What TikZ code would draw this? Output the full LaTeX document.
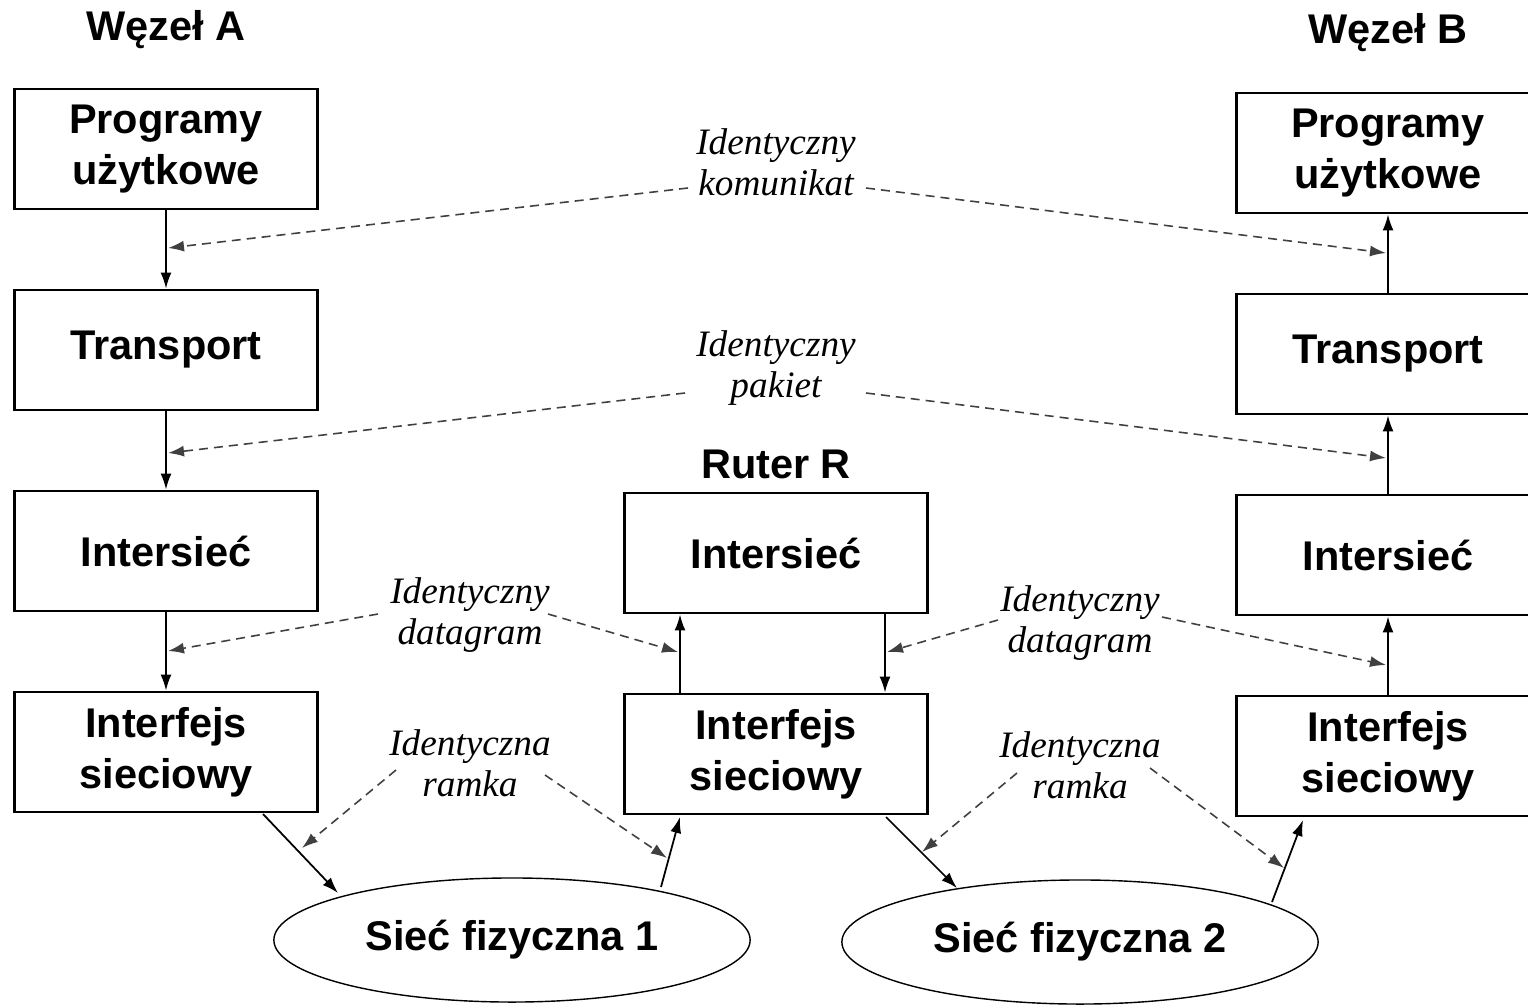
\documentclass[tikz,border=0pt]{standalone}
\usepackage{fontspec}
\setmainfont{Liberation Serif}
\setsansfont{Liberation Sans}
\usetikzlibrary{arrows.meta,shapes.geometric}

\tikzset{
  warstwa/.style={draw, thick, minimum width=3.03cm, minimum height=1.2cm, align=center,
    font=\sffamily\bfseries\fontsize{11.8}{14.5}\selectfont},
  tytul/.style={font=\sffamily\bfseries\fontsize{11.8}{14.5}\selectfont},
  etykieta/.style={align=center, font=\itshape\fontsize{10.6}{11.7}\selectfont},
  siec/.style={draw, ellipse, thin, minimum width=4.76cm, minimum height=1.24cm,
    font=\sffamily\bfseries\fontsize{11.8}{14.5}\selectfont},
  strz/.style={-{Latex[length=1.6mm,width=1.1mm]}, line width=0.5pt},
  przer/.style={-{Latex[length=1.6mm,width=1.1mm]}, line width=0.45pt, black!75,
    dash pattern=on 0.9mm off 0.6mm}
}

\begin{document}
\begin{tikzpicture}[x=0.01cm, y=-0.01cm]
			\useasboundingbox (0,0) rectangle (1528,1006);
			\clip (0,0) rectangle (1528,1006);
			% titles
			\node[tytul] (tA) at (166,30) {Węzeł A};
			\node[tytul] (tB) at (1388,33) {Węzeł B};
			\node[tytul] (tR) at (776,464) {Ruter R};
			% node A
			\node[warstwa] (A1) at (166,149) {Programy\\użytkowe};
			\node[warstwa] (A2) at (166,350) {Transport};
			\node[warstwa] (A3) at (166,551) {Intersieć};
			\node[warstwa] (A4) at (166,752) {Interfejs\\sieciowy};
			% router R
			\node[warstwa] (R1) at (776,553) {Intersieć};
			\node[warstwa] (R2) at (776,754) {Interfejs\\sieciowy};
			% node B
			\node[warstwa] (B1) at (1388,153) {Programy\\użytkowe};
			\node[warstwa] (B2) at (1388,354) {Transport};
			\node[warstwa] (B3) at (1388,555) {Intersieć};
			\node[warstwa] (B4) at (1388,756) {Interfejs\\sieciowy};
			% networks
			\node[siec] (N1) at (512,940) {Sieć fizyczna 1};
			\node[siec] (N2) at (1080,942) {Sieć fizyczna 2};
			% vertical arrows
			\draw[strz] (A1) -- (A2);
			\draw[strz] (A2) -- (A3);
			\draw[strz] (A3) -- (A4);
			\draw[strz] (B4) -- (B3);
			\draw[strz] (B3) -- (B2);
			\draw[strz] (B2) -- (B1);
			\coordinate (rUp) at (680,0);
			\coordinate (rDn) at (885,0);
			\draw[strz] (R2.north -| rUp) -- (R1.south -| rUp);
			\draw[strz] (R1.south -| rDn) -- (R2.north -| rDn);
			% links to the networks
			\coordinate (a4) at (263,814);
			\coordinate (n1a) at (338,893);
			\coordinate (n1b) at (661,887);
			\coordinate (r2a) at (680,817);
			\coordinate (r2b) at (886,817);
			\coordinate (n2a) at (957,888);
			\coordinate (n2b) at (1272,902);
			\coordinate (b4) at (1303,820);
			\draw[strz] (a4) -- (n1a);
			\draw[strz] (n1b) -- (r2a);
			\draw[strz] (r2b) -- (n2a);
			\draw[strz] (n2b) -- (b4);
			% labels
			\node[etykieta] (lKom) at (776,162) {Identyczny\\komunikat};
			\node[etykieta] (lPak) at (776,368) {Identyczny\\pakiet};
			\node[etykieta] (lDat1) at (470,615) {Identyczny\\datagram};
			\node[etykieta] (lDat2) at (1080,623) {Identyczny\\datagram};
			\node[etykieta] (lRam1) at (470,763) {Identyczna\\ramka};
			\node[etykieta] (lRam2) at (1080,765) {Identyczna\\ramka};
			% dashed arrows
			\coordinate (k1) at (688,188);  \coordinate (kA) at (168,248);
			\coordinate (k2) at (866,188);  \coordinate (kB) at (1386,253);
			\coordinate (p1) at (685,393);  \coordinate (pA) at (168,453);
			\coordinate (p2) at (866,393);  \coordinate (pB) at (1386,458);
			\coordinate (d1) at (378,614);  \coordinate (dA) at (168,651);
			\coordinate (d2) at (548,614);  \coordinate (dR1) at (678,652);
			\coordinate (d3) at (998,620);  \coordinate (dR2) at (887,652);
			\coordinate (d4) at (1162,617); \coordinate (dB) at (1386,665);
			\coordinate (m1) at (396,770);  \coordinate (mA) at (302,848);
			\coordinate (m2) at (545,775);  \coordinate (mR1) at (667,858);
			\coordinate (m3) at (1017,773); \coordinate (mR2) at (922,852);
			\coordinate (m4) at (1150,768); \coordinate (mB) at (1284,868);
			\foreach \s/\t in {k1/kA, k2/kB, p1/pA, p2/pB, d1/dA, d2/dR1, d3/dR2, d4/dB, m1/mA, m2/mR1, m3/mR2, m4/mB}
				\draw[przer] (\s) -- (\t);
		\end{tikzpicture}
\end{document}
